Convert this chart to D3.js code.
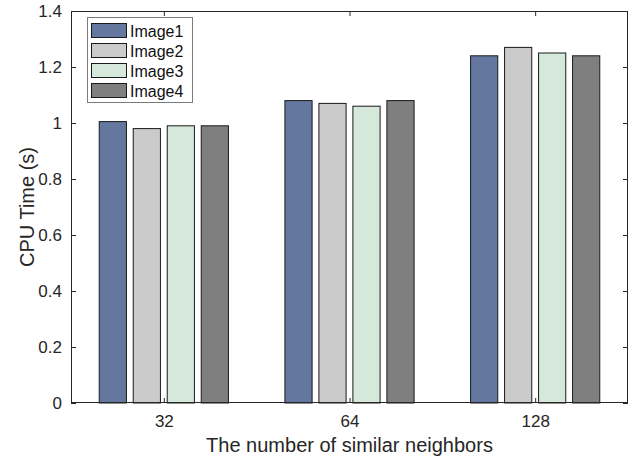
<!DOCTYPE html>
<html>
<head>
<meta charset="utf-8">
<script src="https://cdn.jsdelivr.net/npm/d3@7"></script>
<style>
  html, body { margin: 0; padding: 0; background: #fff; }
  svg { display: block; font-family: "Liberation Sans", Arial, Helvetica, sans-serif; }
</style>
</head>
<body>
<svg id="chart" width="639" height="461"></svg>
<script>
// Neighbor counts on the x axis
const categories = ["32", "64", "128"];
// Series names
const seriesNames = ["Image1", "Image2", "Image3", "Image4"];
// CPU time (s) per series, one value per neighbor count
const image1 = [1.005, 1.08, 1.24];
const image2 = [0.98, 1.07, 1.27];
const image3 = [0.99, 1.06, 1.25];
const image4 = [0.99, 1.08, 1.24];
const yTicks = [0, 0.2, 0.4, 0.6, 0.8, 1, 1.2, 1.4];
const seriesColors = ["#63779f", "#cbcbcb", "#d5e8da", "#7f7f7f"];

const seriesValues = [image1, image2, image3, image4];
const rows = categories.map((c, i) => ({
  category: c,
  values: seriesNames.map((s, k) => ({ series: s, value: seriesValues[k][i] }))
}));

const svg = d3.select("#chart");
const margin = { left: 71, right: 11, top: 11, bottom: 58 };
const W = 639, H = 461;
const x0 = margin.left, x1 = W - margin.right;
const yTop = margin.top, yBot = H - margin.bottom;
const ink = "#262626";

const x = d3.scalePoint().domain(categories).range([x0, x1]).padding(0.5);
const xs = d3.scaleBand().domain(seriesNames).range([-68, 68])
  .paddingInner(0.2).paddingOuter(0.1);
const y = d3.scaleLinear().domain([0, 1.4]).range([yBot, yTop]);
const color = d3.scaleOrdinal().domain(seriesNames).range(seriesColors);

// Bars
const groups = svg.append("g").selectAll("g").data(rows).join("g")
  .attr("transform", d => `translate(${x(d.category)},0)`);
groups.selectAll("rect").data(d => d.values).join("rect")
  .attr("x", d => xs(d.series))
  .attr("width", xs.bandwidth())
  .attr("y", d => y(d.value))
  .attr("height", d => y(0) - y(d.value))
  .attr("fill", d => color(d.series))
  .attr("stroke", "#1a1a1a")
  .attr("stroke-width", 1);

// Axes: box with inward ticks on all four sides
const fontSize = 17;
function styleAxis(g) {
  g.select(".domain").remove();
  g.selectAll("line").attr("stroke", ink);
  g.selectAll("text").attr("fill", ink).style("font-size", fontSize + "px")
    .style("font-family", "'Liberation Sans', Arial, sans-serif");
}
const tickLen = 5;
svg.append("g").attr("transform", `translate(0,${yBot})`)
  .call(d3.axisBottom(x).tickSizeInner(-tickLen).tickSizeOuter(0).tickPadding(12))
  .call(styleAxis);
svg.append("g").attr("transform", `translate(0,${yTop})`)
  .call(d3.axisTop(x).tickSizeInner(-tickLen).tickSizeOuter(0).tickFormat(""))
  .call(styleAxis);
svg.append("g").attr("transform", `translate(${x0},0)`)
  .call(d3.axisLeft(y).tickValues(yTicks).tickSizeInner(-tickLen).tickSizeOuter(0)
    .tickPadding(9).tickFormat(d3.format("~g")))
  .call(styleAxis);
svg.append("g").attr("transform", `translate(${x1},0)`)
  .call(d3.axisRight(y).tickValues(yTicks).tickSizeInner(-tickLen).tickSizeOuter(0).tickFormat(""))
  .call(styleAxis);

svg.append("rect")
  .attr("x", x0 + 0.5).attr("y", yTop + 0.5)
  .attr("width", x1 - x0 - 1).attr("height", yBot - yTop - 1)
  .attr("fill", "none").attr("stroke", ink).attr("stroke-width", 1);

// Axis titles
svg.append("text")
  .attr("x", (x0 + x1) / 2).attr("y", 452)
  .attr("text-anchor", "middle").attr("fill", ink)
  .style("font-size", "20px")
  .text("The number of similar neighbors");
svg.append("text")
  .attr("transform", `translate(34,${(yTop + yBot) / 2}) rotate(-90)`)
  .attr("text-anchor", "middle").attr("fill", ink)
  .style("font-size", "20px")
  .text("CPU Time (s)");

// Legend
const lg = svg.append("g").attr("transform", "translate(87,17)");
lg.append("rect").attr("x", 0.5).attr("y", 0.5).attr("width", 105).attr("height", 85)
  .attr("fill", "#fff").attr("stroke", "#7a7a7a").attr("stroke-width", 1);
const items = lg.selectAll("g.item").data(seriesNames).join("g").attr("class", "item")
  .attr("transform", (d, i) => `translate(0,${6 + i * 20})`);
items.append("rect").attr("x", 4.5).attr("y", 0.5).attr("width", 35).attr("height", 14)
  .attr("fill", d => color(d)).attr("stroke", "#1a1a1a");
items.append("text").attr("x", 43).attr("y", 14)
  .attr("fill", "#111").style("font-size", "16px").text(d => d);
</script>
</body>
</html>
